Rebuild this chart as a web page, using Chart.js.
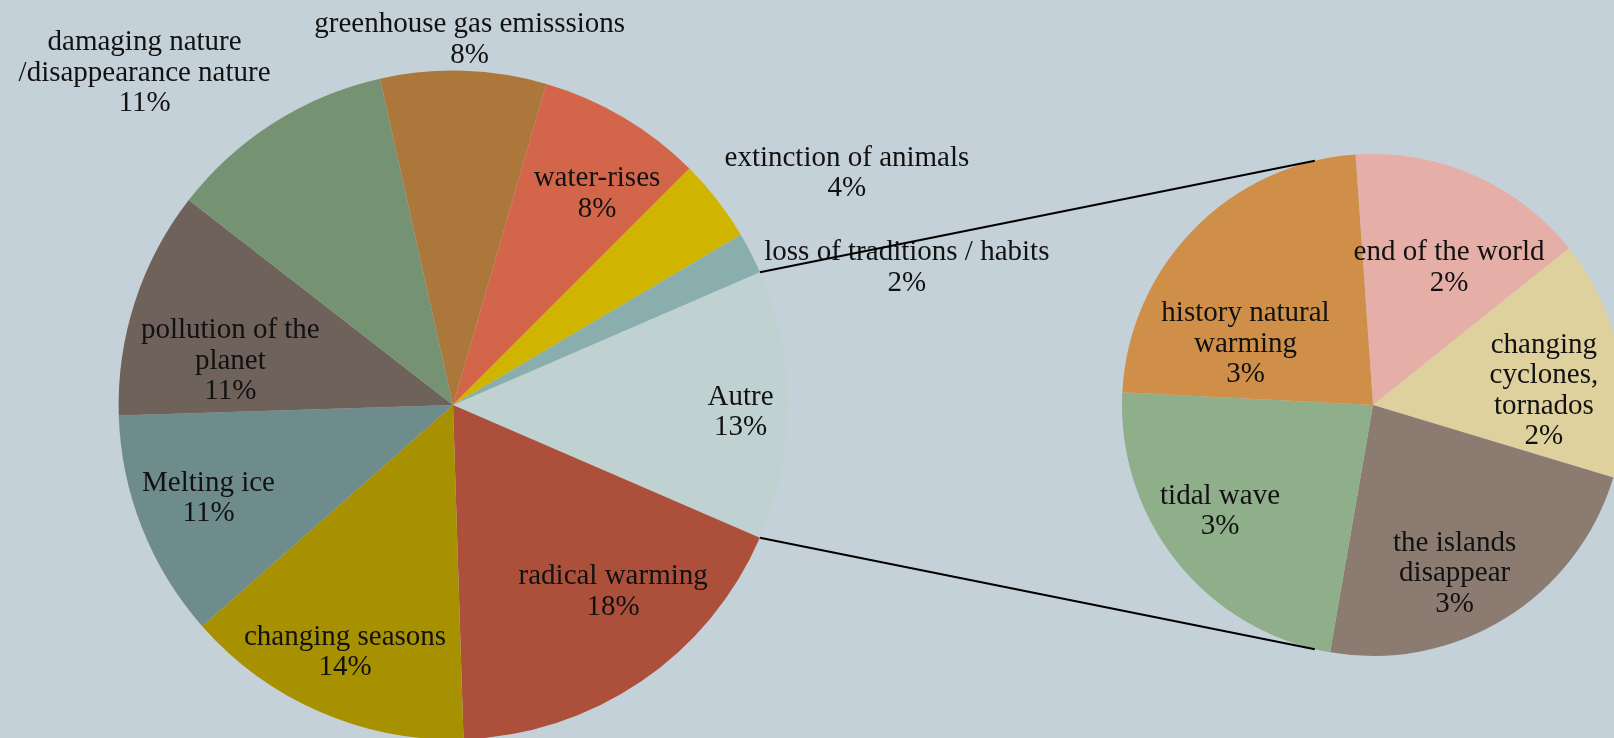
<!DOCTYPE html>
<html>
<head>
<meta charset="utf-8">
<script src="https://cdn.jsdelivr.net/npm/chart.js@4.4.0/dist/chart.umd.min.js"></script>
<style>
  html, body { margin: 0; padding: 0; background: #c5d1d8; overflow: hidden; }
  #stage { position: relative; width: 1614px; height: 738px; overflow: hidden; }
  #stage canvas { position: absolute; left: 0; top: 0; }
</style>
</head>
<body>
<div id="stage">
  <canvas id="mainPie" width="1700" height="800"></canvas>
  <canvas id="detailPie" width="1700" height="800"></canvas>
</div>
<script>
// Main pie: share of answers per theme (%). "Autre" groups the small themes
// that are broken down in the second pie on the right.
const mainCategories = [
  ["Autre"],
  ["radical warming"],
  ["changing seasons"],
  ["Melting ice"],
  ["pollution of the", "planet"],
  ["damaging nature", "/disappearance nature"],
  ["greenhouse gas emisssions"],
  ["water-rises"],
  ["extinction of animals"],
  ["loss of traditions / habits"]
];
const mainValues = [13, 18, 14, 11, 11, 11, 8, 8, 4, 2];
const mainColors = [
  "#c0d1d1", "#ad503b", "#a89100", "#6f8c8c", "#6f625a",
  "#759372", "#ab773a", "#d3654b", "#cfb500", "#8aaeae"
];

// Breakdown of "Autre"
const detailCategories = [
  ["end of the world"],
  ["changing", "cyclones,", "tornados"],
  ["the islands", "disappear"],
  ["tidal wave"],
  ["history natural", "warming"]
];
const detailValues = [2, 2, 3, 3, 3];
const detailColors = ["#e5afa8", "#dfd19e", "#8b7b71", "#8fae8a", "#d08f49"];

// Label placement per slice: [angle nudge from the slice middle (deg), distance as share of radius]
const mainLabelPlacement = [
  [1, 0.86], [-6.8, 0.73], [0.4, 0.80], [1.2, 0.78], [-6.3, 0.68],
  [-10.3, 1.36], [0.8, 1.10], [3.4, 0.77], [7.1, 1.37], [9.9, 1.42]
];
const detailLabelPlacement = [
  [4.9, 0.633], [5.4, 0.684], [5.5, 0.737], [4.4, 0.737], [-18.1, 0.567]
];

const LABEL_FONT = '29px "Liberation Serif", "Times New Roman", serif';
const LINE_HEIGHT = 30.5;
const LABEL_DROP = 2.5;
const DEG = Math.PI / 180;

function sliceLabels(placement) {
  return {
    id: 'sliceLabels',
    afterDatasetsDraw(chart) {
      const ctx = chart.ctx;
      const meta = chart.getDatasetMeta(0);
      const ds = chart.data.datasets[0];
      ctx.save();
      ctx.font = LABEL_FONT;
      ctx.fillStyle = '#111111';
      ctx.textAlign = 'center';
      ctx.textBaseline = 'middle';
      meta.data.forEach((arc, i) => {
        const p = arc.getProps(['x', 'y', 'startAngle', 'endAngle', 'outerRadius'], true);
        const [nudge, share] = placement[i];
        const a = (p.startAngle + p.endAngle) / 2 + nudge * DEG;
        const cx = p.x + Math.cos(a) * p.outerRadius * share;
        const cy = p.y + Math.sin(a) * p.outerRadius * share + LABEL_DROP;
        const lines = chart.data.labels[i].concat([ds.data[i] + '%']);
        lines.forEach((t, k) => {
          ctx.fillText(t, cx, cy + (k - (lines.length - 1) / 2) * LINE_HEIGHT);
        });
      });
      ctx.restore();
    }
  };
}

function pieOptions(rotation, padding) {
  return {
    responsive: false,
    animation: false,
    rotation: rotation,
    layout: { padding: padding },
    plugins: {
      legend: { display: false },
      tooltip: { enabled: false },
      title: { display: false }
    },
    elements: { arc: { borderWidth: 0 } }
  };
}

const mainChart = new Chart(document.getElementById('mainPie'), {
  type: 'pie',
  data: {
    labels: mainCategories,
    datasets: [{ data: mainValues, backgroundColor: mainColors, borderWidth: 0 }]
  },
  options: pieOptions(66.6, { left: 118.6, top: 70.6, right: 912.6, bottom: 60.6 }),
  plugins: [sliceLabels(mainLabelPlacement)]
});

// Lines joining the "Autre" slice to the breakdown pie
const joinLines = {
  id: 'joinLines',
  afterDraw(chart) {
    const other = mainChart.getDatasetMeta(0).data[0]
      .getProps(['x', 'y', 'startAngle', 'endAngle', 'outerRadius'], true);
    const detail = chart.getDatasetMeta(0).data[0].getProps(['x', 'y', 'outerRadius'], true);
    const reach = 103.4 * DEG;
    const ctx = chart.ctx;
    ctx.save();
    ctx.strokeStyle = '#000000';
    ctx.lineWidth = 2;
    ctx.beginPath();
    ctx.moveTo(other.x + Math.cos(other.startAngle) * other.outerRadius,
               other.y + Math.sin(other.startAngle) * other.outerRadius);
    ctx.lineTo(detail.x + Math.cos(-reach) * detail.outerRadius,
               detail.y + Math.sin(-reach) * detail.outerRadius);
    ctx.moveTo(other.x + Math.cos(other.endAngle) * other.outerRadius,
               other.y + Math.sin(other.endAngle) * other.outerRadius);
    ctx.lineTo(detail.x + Math.cos(reach) * detail.outerRadius,
               detail.y + Math.sin(reach) * detail.outerRadius);
    ctx.stroke();
    ctx.restore();
  }
};

new Chart(document.getElementById('detailPie'), {
  type: 'pie',
  data: {
    labels: detailCategories,
    datasets: [{ data: detailValues, backgroundColor: detailColors, borderWidth: 0 }]
  },
  options: pieOptions(-4, { left: 1122, top: 154, right: 76, bottom: 144 }),
  plugins: [sliceLabels(detailLabelPlacement), joinLines]
});
</script>
</body>
</html>
